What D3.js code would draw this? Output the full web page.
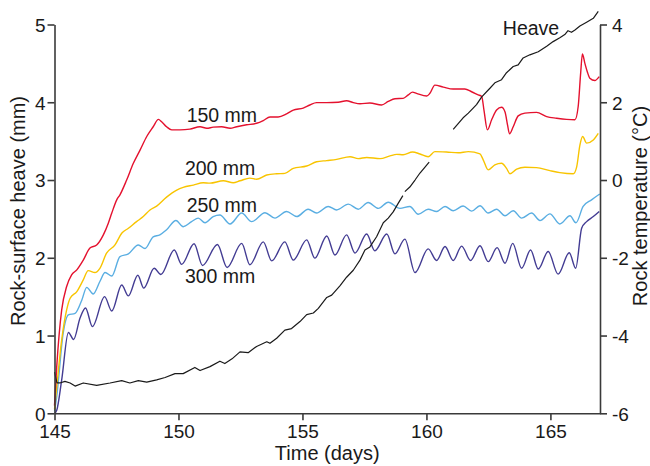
<!DOCTYPE html>
<html>
<head>
<meta charset="utf-8">
<script src="https://cdn.jsdelivr.net/npm/d3@7"></script>
<style>
  body { margin: 0; background: #fff; }
  svg { display: block; }
  text { font-family: "Liberation Sans", Arial, Helvetica, sans-serif; fill: #1a1a1a; }
</style>
</head>
<body>
<svg id="chart" width="650" height="466"></svg>
<script>
// Axis ticks
const dayTicks = [145, 150, 155, 160, 165];
const heaveTicks = [0, 1, 2, 3, 4, 5];
const tempTicks = [-6, -4, -2, 0, 2, 4];

// Rock-surface heave (mm) against time (days); null marks a gap in the record
const heave = [
  [145.0,0.53],[145.10,0.39],[145.22,0.39],[145.42,0.41],[145.63,0.39],[145.83,0.35],[146.16,0.39],
  [146.70,0.36],[147.24,0.39],[147.71,0.42],[148.04,0.39],[148.38,0.42],[148.72,0.40],[149.12,0.43],
  [149.46,0.46],[149.86,0.51],[150.19,0.51],[150.66,0.59],[150.87,0.55],[151.27,0.60],[151.67,0.67],
  [151.87,0.64],[152.16,0.70],[152.48,0.79],[152.81,0.78],[153.15,0.86],[153.56,0.92],[153.69,0.90],
  [153.96,0.965],[154.29,1.07],[154.56,1.09],[154.90,1.18],[155.17,1.27],[155.44,1.29],[155.64,1.35],
  [155.98,1.49],[156.18,1.52],[156.51,1.64],[156.78,1.75],[157.05,1.84],[157.32,1.97],[157.52,2.10],
  [157.72,2.14],[157.99,2.27],[158.26,2.45],[158.46,2.51],[158.66,2.59],[158.86,2.70],[159.05,2.80],
  null,
  [159.13,2.85],[159.33,2.91],[159.54,3.00],[159.74,3.09],[160.11,3.23],
  null,
  [161.08,3.65],[161.48,3.80],[161.69,3.86],[162.02,3.97],[162.23,4.07],[162.56,4.18],[162.76,4.25],
  [163.03,4.29],[163.23,4.38],[163.50,4.46],[163.70,4.48],[163.90,4.57],[164.17,4.61],[164.51,4.65],
  [164.85,4.72],[165.11,4.78],[165.38,4.83],[165.58,4.87],[165.71,4.92],[165.85,4.90],[165.99,4.93],
  [166.19,4.98],[166.46,5.03],[166.73,5.08],[166.93,5.17]
];

// Rock temperature (°C) at 150 mm depth
const temp150 = [
  [145.0,-5.8],[145.09,-4.80],[145.29,-3.34],[145.49,-2.74],[145.69,-2.44],[145.90,-2.31],[146.16,-2.06],
  [146.43,-1.75],[146.70,-1.67],[146.97,-1.41],[147.17,-1.11],[147.31,-0.85],[147.51,-0.51],[147.64,-0.38],
  [147.91,0.00],[148.18,0.43],[148.45,0.77],[148.72,1.12],[148.98,1.37],[149.19,1.56],[149.32,1.50],
  [149.52,1.37],[149.73,1.29],[150.06,1.29],[150.46,1.31],[150.87,1.37],[151.14,1.33],[151.40,1.36],
  [151.74,1.37],[152.08,1.33],[152.35,1.37],[152.75,1.42],[153.15,1.46],[153.42,1.53],[153.69,1.62],
  [154.02,1.62],[154.36,1.70],[154.63,1.80],[155.03,1.85],[155.30,1.93],[155.57,1.99],[155.98,1.99],
  [156.44,2.00],[156.78,2.04],[157.05,1.99],[157.32,1.96],[157.72,1.98],[158.19,1.93],[158.46,2.02],
  [158.73,2.09],[159.06,2.10],[159.27,2.19],[159.44,2.26],[159.60,2.23],[160.01,2.16],[160.14,2.23],
  [160.34,2.44],[160.68,2.39],[161.08,2.34],[161.55,2.34],[161.82,2.27],[162.09,2.19],[162.23,2.15],
  [162.32,1.80],[162.46,1.29],[162.63,1.55],[162.83,1.80],[163.03,1.87],[163.17,1.75],[163.27,1.42],
  [163.35,1.19],[163.50,1.37],[163.70,1.65],[163.97,1.72],[164.44,1.74],[164.85,1.63],[165.25,1.59],
  [165.65,1.56],[165.99,1.55],[166.12,1.89],[166.22,2.75],[166.29,3.24],[166.39,3.00],[166.49,2.78],
  [166.59,2.62],[166.79,2.56],[166.97,2.66]
];

// Rock temperature (°C) at 200 mm depth
const temp200 = [
  [145.0,-5.9],[145.09,-5.32],[145.29,-4.11],[145.49,-3.34],[145.63,-3.04],[145.90,-2.87],[146.16,-2.57],
  [146.36,-2.33],[146.63,-2.38],[146.83,-2.27],[147.10,-1.88],[147.44,-1.67],[147.71,-1.37],[147.98,-1.24],
  [148.31,-1.07],[148.58,-0.94],[148.85,-0.77],[149.12,-0.67],[149.52,-0.44],[149.93,-0.26],[150.19,-0.19],
  [150.60,-0.13],[151.00,-0.07],[151.27,-0.08],[151.81,-0.02],[152.21,-0.07],[152.48,-0.02],[152.88,0.05],
  [153.15,0.02],[153.56,0.13],[153.96,0.16],[154.29,0.17],[154.63,0.30],[155.17,0.36],[155.57,0.47],
  [155.98,0.50],[156.38,0.53],[156.92,0.60],[157.25,0.55],[157.59,0.58],[158.13,0.55],[158.53,0.62],
  [158.80,0.66],[159.06,0.65],[159.44,0.72],[159.74,0.67],[160.07,0.60],[160.34,0.73],[160.81,0.72],
  [161.28,0.70],[161.69,0.73],[162.16,0.67],[162.29,0.52],[162.49,0.26],[162.76,0.39],[163.03,0.43],
  [163.23,0.30],[163.37,0.16],[163.64,0.28],[163.97,0.33],[164.44,0.32],[164.98,0.24],[165.38,0.19],
  [165.92,0.16],[166.06,0.34],[166.19,0.90],[166.30,1.12],[166.46,0.95],[166.73,1.03],[166.93,1.20]
];

// Rock temperature (°C) at 250 mm depth
const temp250 = [
  [145.0,-5.95],[145.09,-5.57],[145.35,-3.94],[145.56,-3.47],[145.83,-3.43],[146.10,-3.09],[146.30,-2.76],
  [146.56,-2.93],[146.83,-2.61],[147.04,-2.38],[147.31,-2.47],[147.64,-1.97],[147.98,-1.90],[148.38,-1.67],
  [148.65,-1.76],[148.98,-1.46],[149.25,-1.41],[149.52,-1.28],[149.90,-1.04],[150.19,-1.20],[150.53,-1.07],
  [150.80,-0.98],[151.07,-1.10],[151.40,-0.94],[151.67,-0.90],[152.08,-1.13],[152.55,-0.85],[152.95,-1.07],
  [153.49,-0.84],[153.89,-0.98],[154.36,-0.81],[154.77,-0.94],[155.23,-0.75],[155.57,-0.85],[156.04,-0.68],
  [156.38,-0.77],[156.85,-0.62],[157.25,-0.75],[157.65,-0.58],[158.06,-0.73],[158.46,-0.57],[158.93,-0.73],
  [159.33,-0.68],[159.67,-0.88],[160.07,-0.75],[160.41,-0.81],[160.75,-0.68],[161.08,-0.79],[161.48,-0.67],
  [161.82,-0.80],[162.16,-0.66],[162.49,-0.85],[162.83,-0.75],[163.17,-0.92],[163.50,-0.79],[163.84,-0.98],
  [164.24,-0.85],[164.58,-1.04],[164.98,-0.87],[165.38,-1.13],[165.79,-0.92],[166.03,-1.10],[166.32,-0.68],
  [166.66,-0.51],[166.99,-0.36]
];

// Rock temperature (°C) at 300 mm depth
const temp300 = [
  [145.0,-6.0],[145.09,-5.92],[145.29,-5.14],[145.56,-3.92],[145.77,-4.10],[146.03,-3.55],[146.25,-3.29],
  [146.53,-3.77],[147.02,-3.00],[147.31,-3.37],[147.71,-2.70],[147.98,-2.98],[148.36,-2.45],[148.60,-2.78],
  [149.02,-2.27],[149.29,-2.43],[149.83,-1.80],[150.13,-2.17],[150.63,-1.64],[150.97,-2.20],[151.57,-1.66],
  [151.96,-2.25],[152.55,-1.63],[152.88,-2.18],[153.42,-1.59],[153.76,-2.08],[154.29,-1.59],[154.63,-2.06],
  [155.17,-1.54],[155.50,-2.01],[155.98,-1.44],[156.31,-1.93],[156.78,-1.41],[157.12,-1.88],[157.59,-1.39],
  [157.92,-1.82],[158.40,-1.39],[158.73,-1.90],[159.13,-1.52],[159.54,-2.38],[160.07,-1.77],[160.41,-2.07],
  [160.75,-1.71],[161.08,-2.07],[161.42,-1.70],[161.78,-2.07],[162.16,-1.69],[162.49,-2.10],[162.85,-1.74],
  [163.17,-2.14],[163.48,-1.63],[163.84,-2.27],[164.20,-1.80],[164.51,-2.29],[164.91,-1.84],[165.31,-2.42],
  [165.76,-1.87],[166.02,-2.27],[166.26,-1.24],[166.46,-1.07],[166.73,-0.94],[166.97,-0.81]
];

const plotLeft = 54.5, plotRight = 600, plotTop = 24.5, plotBottom = 413.3;
const axisColor = "#3a3a3a";
const fontStack = "'Liberation Sans', Arial, Helvetica, sans-serif";

const svg = d3.select("#chart");

const x = d3.scaleLinear().domain([145, 167]).range([plotLeft, plotRight]);
const yHeave = d3.scaleLinear().domain([0, 5]).range([plotBottom, plotTop]);
const yTemp = d3.scaleLinear().domain([-6, 4]).range([plotBottom, plotTop]);

// Temperature traces (right axis)
const tempLine = d3.line()
  .x(d => x(d[0]))
  .y(d => yTemp(d[1]))
  .curve(d3.curveMonotoneX);

const series = [
  { data: temp300, color: "#433c93" },
  { data: temp250, color: "#5aaee2" },
  { data: temp200, color: "#f8c400" },
  { data: temp150, color: "#e4112e" }
];

svg.append("g").selectAll("path")
  .data(series)
  .join("path")
  .attr("d", s => tempLine(s.data))
  .attr("fill", "none")
  .attr("stroke", s => s.color)
  .attr("stroke-width", 1.4)
  .attr("stroke-linejoin", "round");

// Heave trace (left axis)
const heaveLine = d3.line()
  .defined(d => d !== null)
  .x(d => x(d[0]))
  .y(d => yHeave(d[1]));

svg.append("path")
  .attr("d", heaveLine(heave))
  .attr("fill", "none")
  .attr("stroke", "#1a1a1a")
  .attr("stroke-width", 1.2)
  .attr("stroke-linejoin", "round");

// Axes (plain hyphen for negative tick labels)
const plainFormat = d => String(d);

function styleAxis(g) {
  g.select(".domain").attr("stroke", axisColor).attr("stroke-width", 1.6);
  g.selectAll(".tick line").attr("stroke", axisColor).attr("stroke-width", 1.6);
  g.selectAll(".tick text").attr("fill", "#1a1a1a").style("font-size", "19px")
    .style("font-family", fontStack);
}

svg.append("g")
  .attr("transform", `translate(0,${plotBottom})`)
  .call(d3.axisBottom(x).tickValues(dayTicks).tickFormat(plainFormat)
    .tickSize(7).tickPadding(4.5).tickSizeOuter(0))
  .call(styleAxis);

svg.append("g")
  .attr("transform", `translate(${plotLeft},0)`)
  .call(d3.axisLeft(yHeave).tickValues(heaveTicks).tickFormat(plainFormat)
    .tickSize(7).tickPadding(2).tickSizeOuter(0))
  .call(styleAxis)
  .selectAll(".tick text").attr("dy", "0.36em");

svg.append("g")
  .attr("transform", `translate(${plotRight},0)`)
  .call(d3.axisRight(yTemp).tickValues(tempTicks).tickFormat(plainFormat)
    .tickSize(7).tickPadding(5).tickSizeOuter(0))
  .call(styleAxis)
  .selectAll(".tick text").attr("dy", "0.36em");

// Axis titles
svg.append("text")
  .attr("x", (plotLeft + plotRight) / 2)
  .attr("y", 460)
  .attr("text-anchor", "middle")
  .style("font-size", "20px")
  .text("Time (days)");

svg.append("text")
  .attr("transform", "translate(25,211) rotate(-90)")
  .attr("text-anchor", "middle")
  .style("font-size", "20px")
  .text("Rock-surface heave (mm)");

svg.append("text")
  .attr("transform", "translate(647,206) rotate(-90)")
  .attr("text-anchor", "middle")
  .style("font-size", "20px")
  .text("Rock temperature (°C)");

// Series labels
const labelFont = "19.5px";
[
  { text: "150 mm", day: 150.33, t: 1.50 },
  { text: "200 mm", day: 150.26, t: 0.13 },
  { text: "250 mm", day: 150.33, t: -0.81 },
  { text: "300 mm", day: 150.26, t: -2.66 }
].forEach(l => {
  svg.append("text")
    .attr("x", x(l.day))
    .attr("y", yTemp(l.t))
    .style("font-size", labelFont)
    .text(l.text);
});

svg.append("text")
  .attr("x", x(163.08))
  .attr("y", yHeave(4.86))
  .style("font-size", labelFont)
  .text("Heave");
</script>
</body>
</html>
